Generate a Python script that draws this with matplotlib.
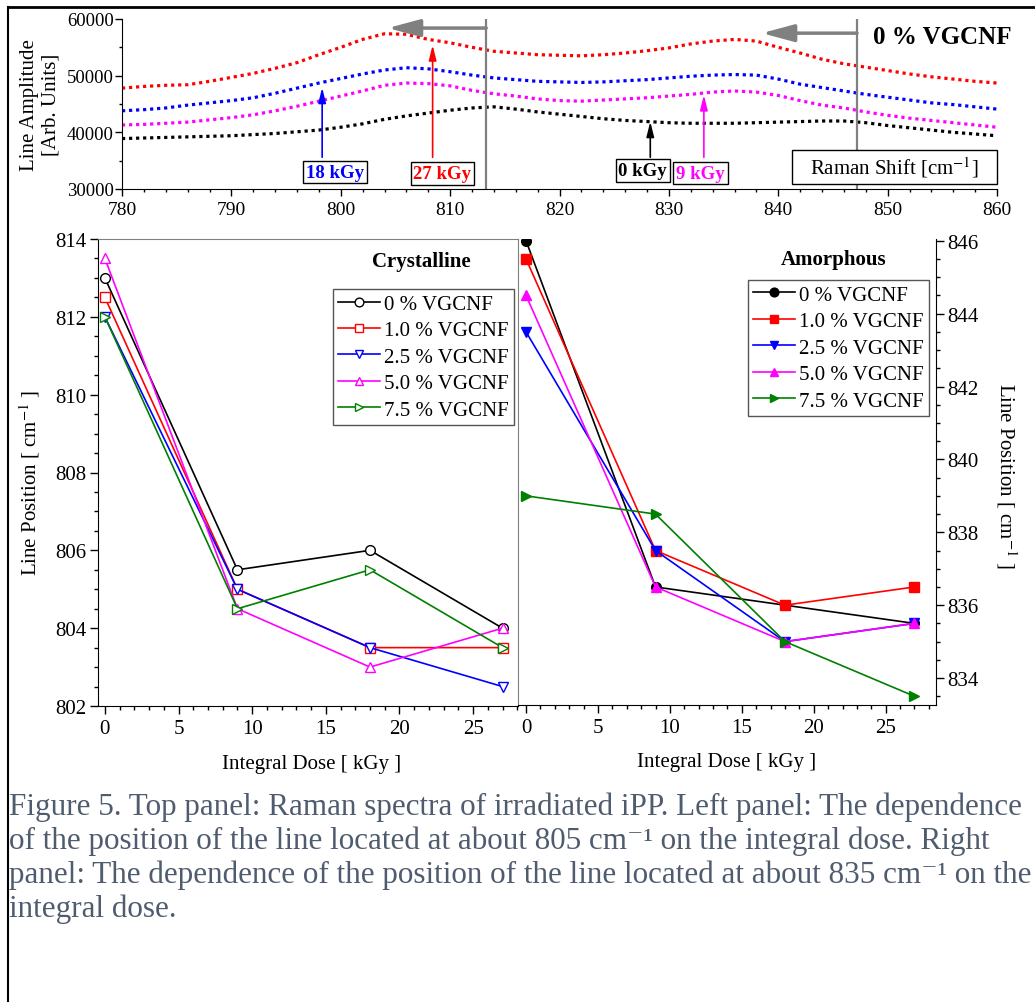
import matplotlib.pyplot as plt
import numpy as np
from matplotlib.lines import Line2D
from matplotlib.patches import Rectangle
from matplotlib.ticker import MultipleLocator

plt.rcParams['font.family'] = ['Liberation Serif', 'DejaVu Serif']
plt.rcParams['mathtext.fontset'] = 'stix'
plt.rcParams['font.size'] = 15

# Raman spectra of irradiated iPP (0 % VGCNF)
raman_shift = np.arange(780, 861, 2)
amp_0kgy = [38900, 39000, 39100, 39200, 39300, 39400, 39600, 39800, 40100, 40400,
            40900, 41500, 42300, 42900, 43400, 43900, 44300, 44500, 44100, 43600,
            43200, 42800, 42400, 42100, 41900, 41700, 41600, 41600, 41600, 41700,
            41800, 41900, 42000, 42000, 41700, 41200, 40800, 40400, 40000, 39700, 39400]
amp_9kgy = [41300, 41400, 41600, 41800, 42200, 42600, 43100, 43800, 44600, 45500,
            46400, 47300, 48300, 48700, 48600, 48200, 47400, 46800, 46400, 45900,
            45600, 45500, 45700, 45900, 46100, 46400, 46700, 47100, 47300, 47100,
            46500, 45600, 44800, 44300, 43600, 43000, 42500, 42100, 41700, 41300, 40900]
amp_18kgy = [43800, 44000, 44300, 44800, 45200, 45600, 46100, 46900, 47800, 48700,
             49500, 50300, 51000, 51400, 51200, 50700, 50100, 49600, 49300, 49000,
             48900, 48800, 48900, 49100, 49300, 49600, 49900, 50100, 50200, 50100,
             49400, 48500, 47900, 47300, 46700, 46200, 45700, 45200, 44900, 44500, 44100]
amp_27kgy = [47800, 48100, 48300, 48400, 49000, 49700, 50400, 51300, 52300, 53700,
             55000, 56400, 57400, 57300, 56400, 55800, 55000, 54300, 54000, 53700,
             53600, 53500, 53700, 54000, 54400, 54900, 55600, 56100, 56400, 56100,
             55000, 54000, 52900, 52100, 51500, 50900, 50300, 49800, 49400, 49000, 48700]

# dose tags: label, arrow x, arrow tip, colour, label position
tag_labels = ['18 kGy', '27 kGy', '0 kGy', '9 kGy']
tag_x = [798.3, 808.4, 828.3, 833.2]
tag_tip = [47900, 55400, 41900, 46600]
tag_colors = ['blue', 'red', 'black', 'magenta']
tag_text_x = [799.5, 809.3, 827.6, 832.9]
tag_text_y = [33000, 32700, 33300, 32800]

# line positions before / after irradiation
peak_from = [813.3, 847.2]
peak_to = [804.3, 838.5]
peak_arrow_y = [58400, 57500]

# line position vs. integral dose
dose = [0, 9, 18, 27]
series_labels = ['0 % VGCNF', '1.0 % VGCNF', '2.5 % VGCNF', '5.0 % VGCNF', '7.5 % VGCNF']
series_colors = ['black', 'red', 'blue', 'magenta', 'green']
series_markers = ['o', 's', 'v', '^', '>']
crystalline = [
    [813.0, 805.5, 806.0, 804.0],
    [812.5, 805.0, 803.5, 803.5],
    [812.0, 805.0, 803.5, 802.5],
    [813.5, 804.5, 803.0, 804.0],
    [812.0, 804.5, 805.5, 803.5],
]
amorphous = [
    [846.0, 836.5, 836.0, 835.5],
    [845.5, 837.5, 836.0, 836.5],
    [843.5, 837.5, 835.0, 835.5],
    [844.5, 836.5, 835.0, 835.5],
    [839.0, 838.5, 835.0, 833.5],
]

W, H = 1035, 1003
fig = plt.figure(figsize=(W / 100, H / 100), dpi=100)


def px_box(x0, y0, x1, y1):
    return [x0 / W, 1 - y1 / H, (x1 - x0) / W, (y1 - y0) / H]


# ---- top panel: spectra
ax = fig.add_axes(px_box(122, 20, 997, 190))
for amp, c in zip([amp_0kgy, amp_9kgy, amp_18kgy, amp_27kgy],
                  ['black', 'magenta', 'blue', 'red']):
    ax.plot(raman_shift, amp, color=c, lw=2.3, ls=(0, (1, 1.2)))
ax.set_xlim(780, 860)
ax.set_ylim(30000, 60000)
ax.spines['top'].set_visible(False)
ax.spines['right'].set_visible(False)
ax.xaxis.set_major_locator(MultipleLocator(10))
ax.xaxis.set_minor_locator(MultipleLocator(2))
ax.yaxis.set_major_locator(MultipleLocator(10000))
ax.yaxis.set_minor_locator(MultipleLocator(5000))
ax.tick_params(which='major', direction='out', length=5, width=1)
ax.tick_params(which='minor', direction='out', length=2.5, width=1)
ax.tick_params(axis='x', labelsize=14)
ax.tick_params(axis='y', labelsize=13.5, pad=1)

for x0, x1, y in zip(peak_from, peak_to, peak_arrow_y):
    ax.axvline(x0, color='#808080', lw=1.6)
    ax.annotate('', xy=(x1, y), xytext=(x0, y),
                arrowprops=dict(arrowstyle='-|>,head_length=1.3,head_width=0.35',
                                color='#808080', lw=2.5, shrinkA=0, shrinkB=0))

for lab, x, tip, c, tx, ty in zip(tag_labels, tag_x, tag_tip, tag_colors,
                                   tag_text_x, tag_text_y):
    ax.annotate('', xy=(x, tip), xytext=(x, 35600),
                arrowprops=dict(arrowstyle='-|>,head_length=0.6,head_width=0.15',
                                color=c, lw=1.2, shrinkA=0, shrinkB=0))
    ax.text(tx, ty, lab, color=c, fontsize=13.5, fontweight='bold',
            ha='center', va='center',
            bbox=dict(boxstyle='square,pad=0.15', fc='white', ec='black', lw=1))

ax.add_patch(Rectangle((841.3, 30880), 18.7, 6000, fc='white', ec='black', lw=1,
                       clip_on=False, zorder=3))
ax.text(850.6, 33880, r'Raman Shift [cm$^{-1}$]', fontsize=15, ha='center',
        va='center', zorder=4)
fig.text(942 / W, 1 - 37 / H, '0 % VGCNF', fontsize=18, fontweight='bold',
         ha='center', va='center')
fig.text(40 / W, 1 - 105 / H, 'Line Amplitude\n[Arb. Units]', rotation=90,
         ha='center', va='center', fontsize=15, linespacing=1.2)

# ---- lower panels: line position vs. dose
axl = fig.add_axes(px_box(97.5, 240, 518, 707))
axr = fig.add_axes(px_box(518, 240, 936, 706))

for vals, lab, c, m in zip(crystalline, series_labels, series_colors, series_markers):
    axl.plot(dose, vals, color=c, lw=1.2, marker=m, ms=7, mfc='white',
             mec=c, mew=1, label=lab, clip_on=False)
for vals, lab, c, m in zip(amorphous, series_labels, series_colors, series_markers):
    axr.plot(dose, vals, color=c, lw=1.2, marker=m, ms=7, mfc=c,
             mec=c, label=lab)

axl.set_xlim(-0.5, 28.05)
axl.set_ylim(802, 814)
axr.set_xlim(-0.56, 28.5)
axr.set_ylim(833.26, 846.05)

for a in (axl, axr):
    a.xaxis.set_major_locator(MultipleLocator(5))
    a.xaxis.set_minor_locator(MultipleLocator(1))
    a.yaxis.set_major_locator(MultipleLocator(2))
    a.yaxis.set_minor_locator(MultipleLocator(0.5))
    a.tick_params(which='major', direction='out', length=6, width=1, labelsize=15)
    a.tick_params(which='minor', direction='out', length=3, width=1)
    a.patch.set_alpha(0)

axl.spines['top'].set_color('#808080')
axl.spines['right'].set_color('#808080')
axr.spines['top'].set_visible(False)
axr.spines['left'].set_visible(False)
axr.yaxis.tick_right()
axl.tick_params(axis='y', pad=2)
axr.tick_params(axis='y', pad=2)

leg_kw = dict(loc='upper left', bbox_transform=fig.transFigure, borderaxespad=0,
              fancybox=False, framealpha=1, edgecolor='#555555', fontsize=15,
              handlelength=2.0, handletextpad=0.2, labelspacing=0.33,
              borderpad=0.25, markerscale=0.9)
legl = axl.legend(bbox_to_anchor=(333 / W, 1 - 290 / H), **leg_kw)
legr = axr.legend(bbox_to_anchor=(748 / W, 1 - 281 / H), **leg_kw)
for leg in (legl, legr):
    leg.get_frame().set_linewidth(1)

fig.text(421.7 / W, 1 - 262 / H, 'Crystalline', fontweight='bold', ha='center',
         va='center', fontsize=15)
fig.text(834 / W, 1 - 260 / H, 'Amorphous', fontweight='bold', ha='center',
         va='center', fontsize=15)
fig.text(312 / W, 1 - 765 / H, 'Integral Dose [ kGy ]', ha='center', va='center')
fig.text(727 / W, 1 - 763 / H, 'Integral Dose [ kGy ]', ha='center', va='center')
fig.text(30 / W, 1 - 483 / H, r'Line Position [ cm$^{-1}$ ]', rotation=90,
         ha='center', va='center')
fig.text(1006 / W, 1 - 476 / H, r'Line Position [ cm$^{-1}$ ]', rotation=270,
         ha='center', va='center')

# ---- caption
caption = [
    'Figure 5. Top panel: Raman spectra of irradiated iPP. Left panel: The dependence',
    'of the position of the line located at about 805 cm\u207b\u00b9 on the integral dose. Right',
    'panel: The dependence of the position of the line located at about 835 cm\u207b\u00b9 on the',
    'integral dose.',
]
for i, line in enumerate(caption):
    fig.text(9 / W, 1 - (815 + 34 * i) / H, line, color='#4f5b6e', fontsize=22.4,
             ha='left', va='baseline')

# outer frame
fig.add_artist(Line2D([8 / W, 1], [1 - 8 / H] * 2, color='black', lw=2))
fig.add_artist(Line2D([8 / W] * 2, [0, 1 - 8 / H], color='black', lw=1.5))

fig.savefig('out.png', dpi=100)
